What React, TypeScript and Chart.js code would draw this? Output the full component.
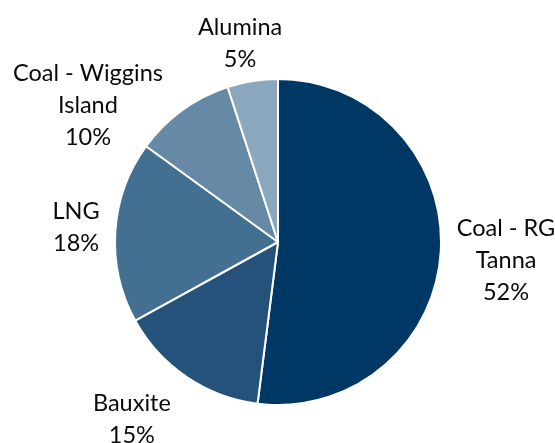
import React, { useEffect, useRef } from "react";
import { Chart, registerables } from "chart.js";

Chart.register(...registerables);

const categories = ["Coal - RG Tanna", "Bauxite", "LNG", "Coal - Wiggins Island", "Alumina"];
const labelLines = [["Coal - RG", "Tanna"], ["Bauxite"], ["LNG"], ["Coal - Wiggins", "Island"], ["Alumina"]];
const shares = [52, 15, 18, 10, 5];
const sliceColors = ["#003865", "#24527a", "#436f91", "#6689a6", "#8ba7be"];

// label placement tweaks (angle shift in degrees, radius factor)
const labelAngleShift = [0.9, 5.2, 0.65, -18.4, -1.8];
const labelRadiusFactor = [1.412, 1.421, 1.25, 1.443, 1.25];

const outsideLabels = {
  id: "outsideLabels",
  afterDraw(chart: any) {
    const ctx = chart.ctx;
    const meta = chart.getDatasetMeta(0);
    ctx.save();
    ctx.font = "23.5px Lato";
    ctx.fillStyle = "#0a0a0a";
    ctx.textAlign = "center";
    ctx.textBaseline = "middle";
    const lineH = 32;
    meta.data.forEach((arc: any, i: number) => {
      const p = arc.getProps(["x", "y", "startAngle", "endAngle", "outerRadius"], true);
      const mid = (p.startAngle + p.endAngle) / 2 + (labelAngleShift[i] * Math.PI) / 180;
      const d = 162 * labelRadiusFactor[i];
      const cx = p.x + Math.cos(mid) * d;
      const cy = p.y + Math.sin(mid) * d;
      const lines = [...labelLines[i], shares[i] + "%"];
      const top = cy - ((lines.length - 1) * lineH) / 2;
      lines.forEach((t, k) => ctx.fillText(t, cx, top + k * lineH));
    });
    ctx.restore();
  },
};

export default function App() {
  const ref = useRef<HTMLCanvasElement>(null);
  useEffect(() => {
    document.body.style.margin = "0";
    const chart = new Chart(ref.current as HTMLCanvasElement, {
      type: "pie",
      data: {
        labels: categories,
        datasets: [
          {
            data: shares,
            backgroundColor: sliceColors,
            borderColor: "#ffffff",
            borderWidth: 2,
          },
        ],
      },
      options: {
        responsive: false,
        animation: false,
        layout: { padding: { top: 78, bottom: 37, left: 10, right: 9 } },
        plugins: { legend: { display: false }, tooltip: { enabled: false } },
      },
      plugins: [outsideLabels],
    });
    return () => chart.destroy();
  }, []);
  return (
    <div style={{ width: 555, height: 443, background: "#fff" }}>
      <canvas ref={ref} width={555} height={443} />
    </div>
  );
}
